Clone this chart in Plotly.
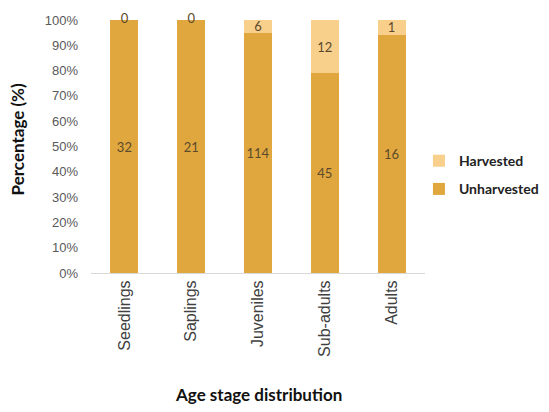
import plotly.graph_objects as go

STAGES = ["Seedlings", "Saplings", "Juveniles", "Sub-adults", "Adults"]
UNHARVESTED = [32, 21, 114, 45, 16]
HARVESTED = [0, 0, 6, 12, 1]

totals = [u + h for u, h in zip(UNHARVESTED, HARVESTED)]
unh_pct = [u / t * 100 for u, t in zip(UNHARVESTED, totals)]
har_pct = [h / t * 100 for h, t in zip(HARVESTED, totals)]

label_font = dict(color="#5b4a2c", size=13, family="Lato")

fig = go.Figure()
fig.add_trace(go.Bar(
    x=STAGES, y=unh_pct, name="Unharvested", legendgroup="u", legendrank=2,
    marker=dict(color="#E1A73F", line=dict(width=0)),
    text=UNHARVESTED, textposition="inside", insidetextanchor="middle",
    textangle=0, constraintext="none", textfont=label_font,
))
fig.add_trace(go.Bar(
    x=STAGES, y=har_pct, name="Harvested", legendgroup="h", legendrank=1,
    marker=dict(color="#F8CF8B", line=dict(width=0)),
    text=HARVESTED, textposition="inside", insidetextanchor="middle",
    textangle=0, constraintext="none", textfont=label_font,
))
# zero-size segments still show their "0" label at the top of the bar
zero_x = [s for s, h in zip(STAGES, HARVESTED) if h == 0]
fig.add_trace(go.Scatter(
    x=zero_x, y=[100] * len(zero_x), mode="text",
    text=["0"] * len(zero_x), textposition="middle center",
    textfont=label_font, cliponaxis=False,
    showlegend=False, hoverinfo="skip",
))

fig.update_layout(
    barmode="stack",
    bargap=0.58,
    width=533, height=396,
    margin=dict(l=83, r=116, t=12, b=131, autoexpand=False),
    plot_bgcolor="white",
    paper_bgcolor="white",
    font=dict(family="Liberation Sans, Arial", color="#595959"),
    legend=dict(
        xref="container", yref="container",
        x=0.771, y=0.578, xanchor="left", yanchor="middle",
        traceorder="grouped", tracegroupgap=7,
        font=dict(family="Lato", size=14, color="#222222", weight="bold"),
    ),
    showlegend=True,
    annotations=[
        dict(text="<b>Age stage distribution</b>", xref="paper", yref="paper",
             x=0.5, y=-0.48, xanchor="center", yanchor="middle", showarrow=False,
             font=dict(family="Lato", size=17, color="#111111")),
        dict(text="<b>Percentage (%)</b>", xref="paper", yref="paper",
             x=-0.22, y=0.526, xanchor="center", yanchor="middle", showarrow=False,
             textangle=-90, font=dict(family="Lato", size=17, color="#111111")),
    ],
)
fig.update_xaxes(
    tickangle=-90, automargin=False,
    tickfont=dict(size=16, color="#404040"),
    showline=True, linecolor="#d9d9d9", linewidth=1,
    ticks="", showgrid=False,
)
fig.update_yaxes(
    range=[0, 100], dtick=10, ticksuffix="%", automargin=False,
    tickfont=dict(size=13, color="#595959"), ticklabelstandoff=12,
    showgrid=False, zeroline=False, showline=False, ticks="",
)

fig.write_html("out.html")
